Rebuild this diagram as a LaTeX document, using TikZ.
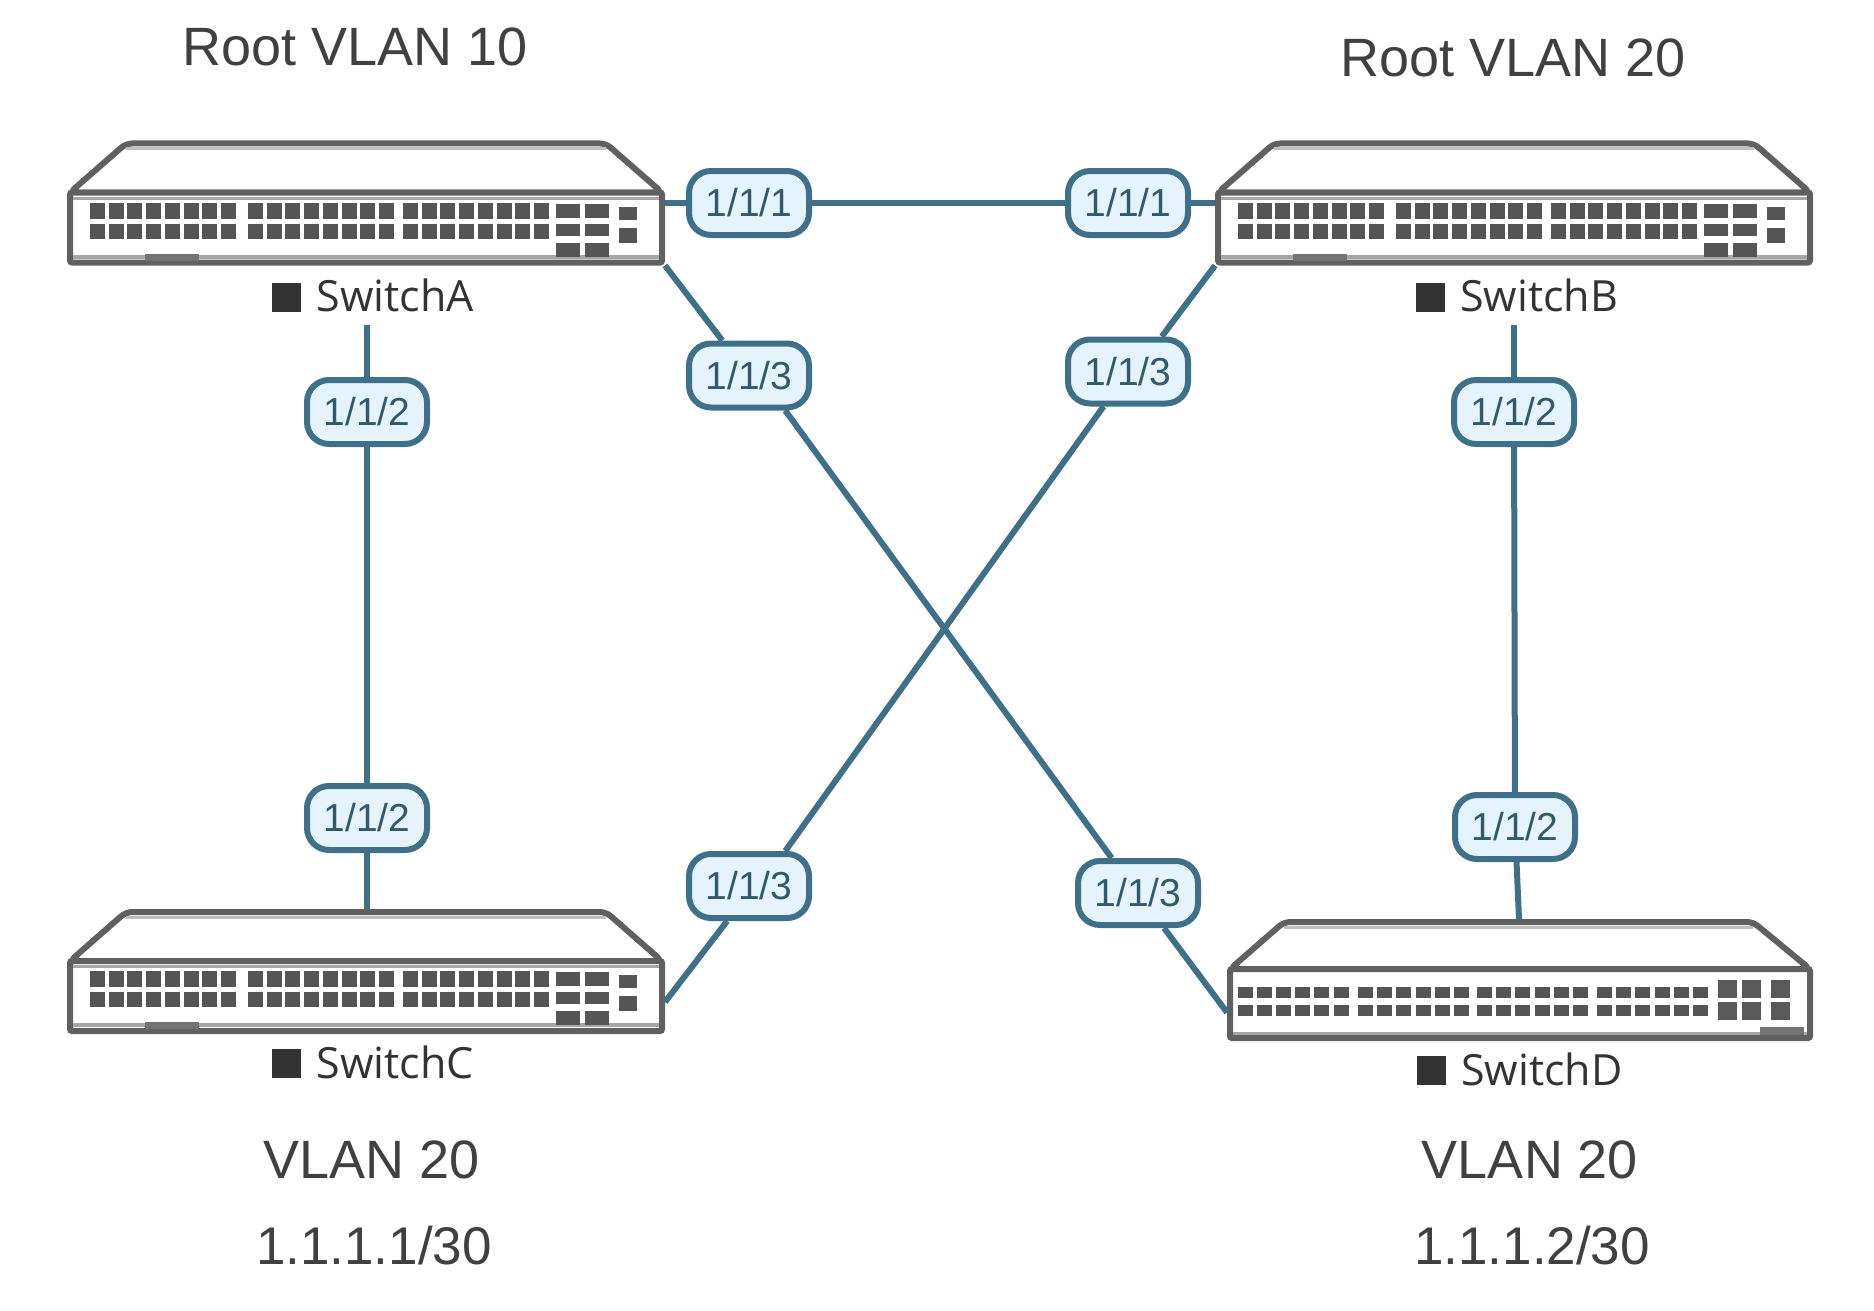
\documentclass[tikz,border=0pt]{standalone}
\usepackage{fontspec}
\setmainfont{Liberation Sans}
\newfontfamily\labelfont{Open Sans}
\definecolor{linkblue}{HTML}{3F7089}
\definecolor{portfill}{HTML}{E5F3FD}
\definecolor{boxgrey}{HTML}{606060}
\definecolor{holegrey}{HTML}{555555}
\definecolor{textgrey}{HTML}{404040}
\tikzset{
  link/.style={draw=linkblue,line width=3pt},
  portbox/.style={draw=linkblue,fill=portfill,line width=3pt,rounded corners=11pt,
    minimum width=60pt,minimum height=32pt,inner sep=0pt,text=linkblue!80!black,
    font=\fontsize{19.5}{22}\selectfont},
  swlabel/.style={minimum height=29pt,inner sep=0pt,text=textgrey!80!black,
    font=\labelfont\fontsize{21.5}{24}\selectfont},
  plaintext/.style={inner sep=0pt,text=textgrey,font=\fontsize{27}{32}\selectfont},
  panel/.style={draw=boxgrey,fill=white,line width=3pt,rounded corners=1pt,inner sep=0pt},
  roof/.style={draw=boxgrey,fill=white,line width=3pt,rounded corners=3pt,line join=round},
  hole/.style={fill=holegrey},
  switchwide/.pic={
    \draw[roof] (3,52) -- (59,3) -- (539,3) -- (595,52) -- cycle;
    \coordinate (-top) at (299,0);
    \node[panel,minimum width=296pt,minimum height=35pt] (-panel) at (299,87) {};
    \fill[black!25] (59,7) rectangle (539,10);
    \fill[black!35] (6,56) rectangle (592,59);
    \fill[black!35] (6,114) rectangle (592,118);
    \fill[black!55] (78,113) rectangle (132,120);
    \foreach \gx in {23,181,336}
      \foreach \n in {0,...,7} {
        \fill[hole] (\gx+\n*18.7,62) rectangle ++(15,16);
        \fill[hole] (\gx+\n*18.7,83) rectangle ++(15,15);
      }
    \foreach \gx in {489,518} {
      \fill[hole] (\gx,63) rectangle ++(24,14);
      \fill[hole] (\gx,83) rectangle ++(24,12);
      \fill[hole] (\gx,102) rectangle ++(24,14);
    }
    \fill[hole] (552,66) rectangle ++(18,13);
    \fill[hole] (552,87) rectangle ++(18,15);
  },
  switchnarrow/.pic={
    \draw[roof] (3,50) -- (57,3) -- (526,3) -- (583,50) -- cycle;
    \coordinate (-top) at (292,0);
    \node[panel,minimum width=290pt,minimum height=34.5pt] (-panel) at (293,84.5) {};
    \fill[black!25] (57,7) rectangle (526,10);
    \fill[black!35] (6,113) rectangle (580,116);
    \fill[black!55] (533,108) rectangle (577,116);
    \foreach \gx in {10.5,131,250,370}
      \foreach \n in {0,...,5} {
        \fill[hole] (\gx+\n*19.2,68) rectangle ++(15,11);
        \fill[hole] (\gx+\n*19.2,86) rectangle ++(15,11);
      }
    \foreach \gx in {491,515,544} {
      \fill[black!65] (\gx,61) rectangle ++(19,18);
      \fill[black!65] (\gx,83) rectangle ++(19,18);
    }
  },
}
\newcommand{\swname}[1]{\textcolor{textgrey!80!black}{\rule{14.5pt}{14.5pt}}\hspace{7.5pt}#1}

\begin{document}
\begin{tikzpicture}[x=0.5pt,y=-0.5pt]
  \useasboundingbox (0,0) rectangle (1874,1311);

  % switches
  \pic (switchA) at (67,140.5) {switchwide};
  \pic (switchB) at (1215,140.5) {switchwide};
  \pic (switchC) at (67,909) {switchwide};
  \pic (switchD) at (1227,919) {switchnarrow};

  \node[swlabel] (labelA) at (373,295.5) {\swname{SwitchA}};
  \node[swlabel] (labelB) at (1517,295.5) {\swname{SwitchB}};
  \node[swlabel] (labelC) at (373,1062) {\swname{SwitchC}};
  \node[swlabel] (labelD) at (1520,1069) {\swname{SwitchD}};

  % ports
  \node[portbox] (portA1) at (749,203) {1/1/1};
  \node[portbox] (portB1) at (1128,203) {1/1/1};
  \node[portbox] (portA3) at (749,375.5) {1/1/3};
  \node[portbox] (portB3) at (1128,371.5) {1/1/3};
  \node[portbox] (portA2) at (367,412) {1/1/2};
  \node[portbox] (portB2) at (1514,412) {1/1/2};
  \node[portbox] (portC2) at (367,818) {1/1/2};
  \node[portbox] (portD2) at (1515,827) {1/1/2};
  \node[portbox] (portC3) at (749,886) {1/1/3};
  \node[portbox] (portD3) at (1138,893) {1/1/3};

  % links
  \draw[link] (switchA-panel.east |- portA1) -- (portA1);
  \draw[link] (portA1) -- (portB1);
  \draw[link] (portB1) -- (switchB-panel.west |- portB1);
  \draw[link] (switchA-panel.south east) -- (portA3);
  \draw[link] (portA3.-44) -- (portD3.127);
  \draw[link] (portD3) -- ([yshift=-4.5pt]switchD-panel.west);
  \draw[link] (switchB-panel.south west) -- (portB3.46);
  \draw[link] (portB3.-125) -- (portC3.44);
  \draw[link] (portC3.-122) -- ([yshift=-3pt]switchC-panel.east);
  \draw[link] (portA2 |- labelA.south) -- (portA2);
  \draw[link] (portA2) -- (portC2);
  \draw[link] (portC2) -- (portC2 |- switchC-top);
  \draw[link] (portB2 |- labelB.south) -- (portB2);
  \draw[link] (portB2) -- (portD2);
  \draw[link] (portD2) -- (switchD-top);

  % texts
  \node[plaintext] (rootA) at (355.5,47) {Root VLAN 10};
  \node[plaintext] (rootB) at (1513,58) {Root VLAN 20};
  \node[plaintext] (vlanC) at (372,1160) {VLAN 20};
  \node[plaintext] (vlanD) at (1530,1160) {VLAN 20};
  \node[plaintext,font=\fontsize{26.5}{32}\selectfont] (ipC) at (374,1246) {1.1.1.1/30};
  \node[plaintext,font=\fontsize{26.5}{32}\selectfont] (ipD) at (1532,1246) {1.1.1.2/30};
\end{tikzpicture}
\end{document}
